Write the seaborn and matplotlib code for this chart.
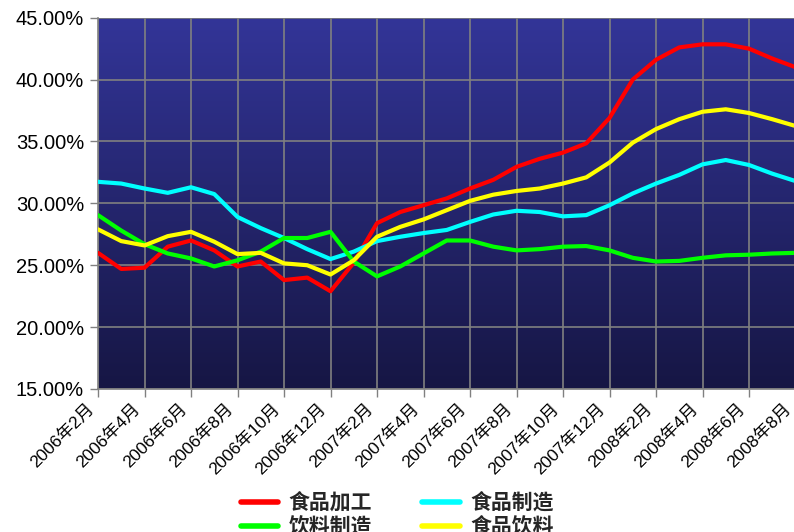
import numpy as np
import pandas as pd
import matplotlib
matplotlib.use("Agg")
import matplotlib.pyplot as plt
import matplotlib.transforms as mtransforms
import seaborn as sns
from matplotlib.ticker import FuncFormatter, FixedLocator
from matplotlib.lines import Line2D

months = ["2006年2月", "2006年3月", "2006年4月", "2006年5月", "2006年6月", "2006年7月",
          "2006年8月", "2006年9月", "2006年10月", "2006年11月", "2006年12月", "2007年1月",
          "2007年2月", "2007年3月", "2007年4月", "2007年5月", "2007年6月", "2007年7月",
          "2007年8月", "2007年9月", "2007年10月", "2007年11月", "2007年12月", "2008年1月",
          "2008年2月", "2008年3月", "2008年4月", "2008年5月", "2008年6月", "2008年7月",
          "2008年8月"]

food_processing = [26.0, 24.7, 24.8, 26.5, 27.0, 26.2, 24.9, 25.3, 23.8, 24.0, 22.9, 25.2,
                   28.4, 29.3, 29.85, 30.4, 31.2, 31.9, 32.95, 33.6, 34.1, 34.85, 36.9, 40.0,
                   41.6, 42.6, 42.85, 42.85, 42.5, 41.7, 41.0]
food_manufacturing = [31.74, 31.6, 31.2, 30.85, 31.3, 30.75, 28.9, 28.0, 27.2, 26.3, 25.5, 26.1,
                      26.95, 27.3, 27.6, 27.85, 28.5, 29.1, 29.4, 29.3, 28.95, 29.05, 29.85, 30.8,
                      31.6, 32.3, 33.15, 33.5, 33.1, 32.4, 31.8]
beverage = [29.05, 27.8, 26.7, 25.95, 25.55, 24.9, 25.4, 26.1, 27.2, 27.2, 27.7, 25.3,
            24.1, 24.9, 25.95, 27.0, 27.0, 26.5, 26.2, 26.3, 26.5, 26.55, 26.2, 25.6,
            25.3, 25.35, 25.6, 25.8, 25.85, 25.95, 26.0]
food_beverage = [27.9, 26.95, 26.6, 27.35, 27.7, 26.9, 25.9, 26.0, 25.15, 25.0, 24.25, 25.4,
                 27.3, 28.1, 28.7, 29.45, 30.2, 30.7, 31.0, 31.2, 31.6, 32.1, 33.3, 34.9,
                 36.0, 36.8, 37.4, 37.6, 37.3, 36.8, 36.25]

series_names = ["食品加工", "食品制造", "饮料制造", "食品饮料"]
series_values = [food_processing, food_manufacturing, beverage, food_beverage]
series_colors = ["#FF0000", "#00FFFF", "#00FF00", "#FFFF00"]
y_ticks = [15, 20, 25, 30, 35, 40, 45]

rows = []
for name, vals in zip(series_names, series_values):
    for i, (m, v) in enumerate(zip(months, vals)):
        rows.append({"idx": i, "month": m, "value": v, "series": name})
df = pd.DataFrame(rows)

sns.set_theme(style="white")
plt.rcParams["font.family"] = ["Liberation Sans", "Noto Sans CJK SC", "DejaVu Sans"]

fig = plt.figure(figsize=(7.94, 5.32), dpi=100)
ax = fig.add_axes([98 / 794, 1 - 389 / 532, 697.5 / 794, (389 - 17.7) / 532])

# gradient background
top = np.array([51, 53, 152]) / 255
bot = np.array([22, 22, 68]) / 255
t = np.linspace(0, 1, 256)[:, None]
grad = (top[None, :] * (1 - t) + bot[None, :] * t)[:, None, :]
ax.imshow(grad, extent=[0, 1, 0, 1], transform=ax.transAxes, aspect="auto", zorder=0)

sns.lineplot(data=df, x="idx", y="value", hue="series", hue_order=series_names,
             palette=dict(zip(series_names, series_colors)), linewidth=3.0,
             ax=ax, legend=False, zorder=3)
for l in ax.get_lines():
    l.set_solid_joinstyle("round")
    l.set_solid_capstyle("round")

ax.set_xlim(0, len(months) - 1)
ax.set_ylim(15, 45)
tick_idx = list(range(0, len(months), 2))
ax.xaxis.set_major_locator(FixedLocator(tick_idx))
ax.tick_params(axis="x", labelbottom=False)
# x labels drawn as rotated text anchored just left/below each tick
offset = mtransforms.ScaledTranslation(-12 / 100, -12 / 100, fig.dpi_scale_trans)
xtrans = ax.get_xaxis_transform() + offset
for i in tick_idx:
    ax.text(i, 0, months[i], transform=xtrans, rotation=45, ha="right", va="top",
            rotation_mode="anchor", fontsize=12.5, color="black", clip_on=False)

ax.yaxis.set_major_locator(FixedLocator(y_ticks))
ax.yaxis.set_major_formatter(FuncFormatter(lambda v, p: f"{v:.2f}%"))
for lab in ax.get_yticklabels():
    lab.set_fontsize(14.5)
ax.tick_params(axis="both", which="major", direction="out", length=6, width=1,
               color="#808080", labelcolor="black", bottom=True, left=True)
ax.tick_params(axis="y", pad=4)
ax.grid(True, color="#808080", linewidth=1.2, zorder=1)
ax.set_axisbelow(False)
for gl in ax.get_xgridlines() + ax.get_ygridlines():
    gl.set_zorder(1)
for s in ["top", "right"]:
    ax.spines[s].set_visible(False)
for s in ["left", "bottom"]:
    ax.spines[s].set_color("#808080")
    ax.spines[s].set_linewidth(1.2)
ax.set_xlabel("")
ax.set_ylabel("")

# legend (row-wise order: 食品加工, 食品制造 / 饮料制造, 食品饮料)
handles = {n: Line2D([0], [0], color=c, linewidth=4) for n, c in zip(series_names, series_colors)}
order = ["食品加工", "饮料制造", "食品制造", "食品饮料"]
leg = fig.legend([handles[n] for n in order], order, loc="upper center",
                 bbox_to_anchor=(0.5, 1 - 484 / 532), ncol=2, frameon=False,
                 handlelength=1.8, handletextpad=0.5, columnspacing=2.4,
                 labelspacing=0.15, borderaxespad=0,
                 prop={"family": ["Noto Sans CJK SC"], "weight": "bold", "size": 15})

fig.savefig("out.png", dpi=100)
